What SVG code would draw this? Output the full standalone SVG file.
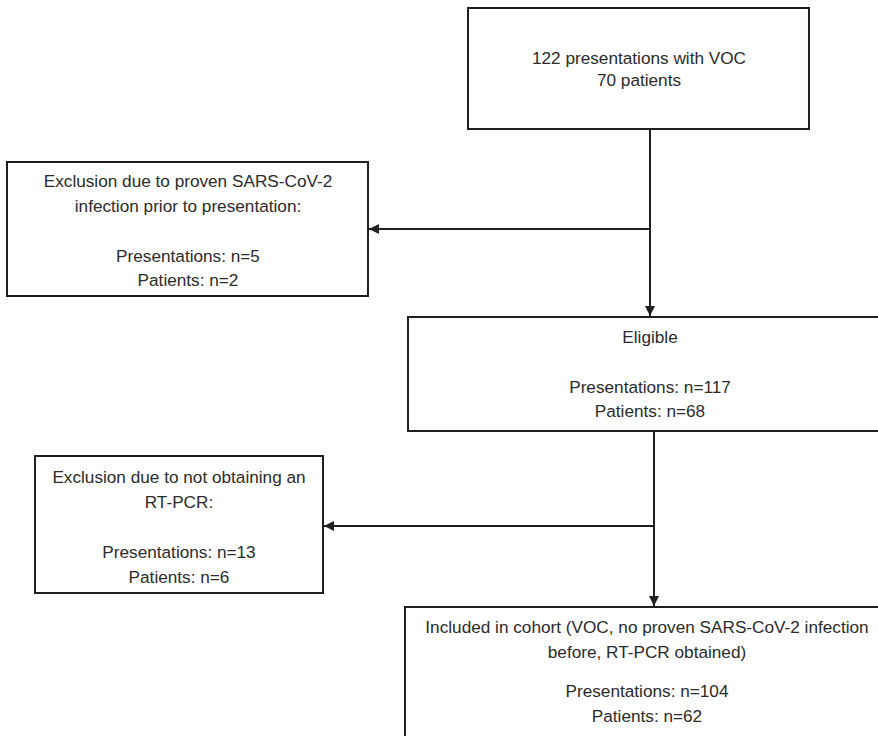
<svg xmlns="http://www.w3.org/2000/svg" width="878" height="736" viewBox="0 0 878 736">
<style>
.box{fill:#fff;stroke:#231f20;stroke-width:2}
.t{font-family:"Liberation Sans",Arial,sans-serif;font-size:17.2px;fill:#2b2b2b;text-anchor:middle}
.c{fill:none;stroke:#231f20;stroke-width:2}
</style>
<defs>
<marker id="ah" markerWidth="10" markerHeight="10" refX="10" refY="5" orient="auto" markerUnits="userSpaceOnUse">
<path d="M0,0 L10,5 L0,10 Z" fill="#231f20"/>
</marker>
</defs>
<rect width="878" height="736" fill="#fff"/>
<g id="connectors">
<line class="c" x1="650" y1="129" x2="650" y2="316" marker-end="url(#ah)"/>
<line class="c" x1="650" y1="229" x2="369" y2="229" marker-end="url(#ah)"/>
<line class="c" x1="654" y1="431" x2="654" y2="606" marker-end="url(#ah)"/>
<line class="c" x1="654" y1="526" x2="324" y2="526" marker-end="url(#ah)"/>
</g>
<g id="start">
<rect class="box" x="468" y="8" width="341" height="121"/>
<text class="t" x="639" y="64">122 presentations with VOC</text>
<text class="t" x="639" y="86">70 patients</text>
</g>
<g id="exclusion1">
<rect class="box" x="7" y="162" width="361" height="134"/>
<text class="t" x="188" y="187">Exclusion due to proven SARS-CoV-2</text>
<text class="t" x="188" y="212">infection prior to presentation:</text>
<text class="t" x="188" y="262">Presentations: n=5</text>
<text class="t" x="188" y="286">Patients: n=2</text>
</g>
<g id="eligible">
<rect class="box" x="408" y="317" width="480" height="114"/>
<text class="t" x="650" y="343">Eligible</text>
<text class="t" x="650" y="393">Presentations: n=117</text>
<text class="t" x="650" y="417">Patients: n=68</text>
</g>
<g id="exclusion2">
<rect class="box" x="35" y="456" width="288" height="137"/>
<text class="t" x="179" y="483">Exclusion due to not obtaining an</text>
<text class="t" x="179" y="508">RT-PCR:</text>
<text class="t" x="179" y="558">Presentations: n=13</text>
<text class="t" x="179" y="583">Patients: n=6</text>
</g>
<g id="included">
<rect class="box" x="405" y="607" width="485" height="140"/>
<text class="t" x="647" y="633">Included in cohort (VOC, no proven SARS-CoV-2 infection</text>
<text class="t" x="647" y="658">before, RT-PCR obtained)</text>
<text class="t" x="647" y="697">Presentations: n=104</text>
<text class="t" x="647" y="722">Patients: n=62</text>
</g>
</svg>
